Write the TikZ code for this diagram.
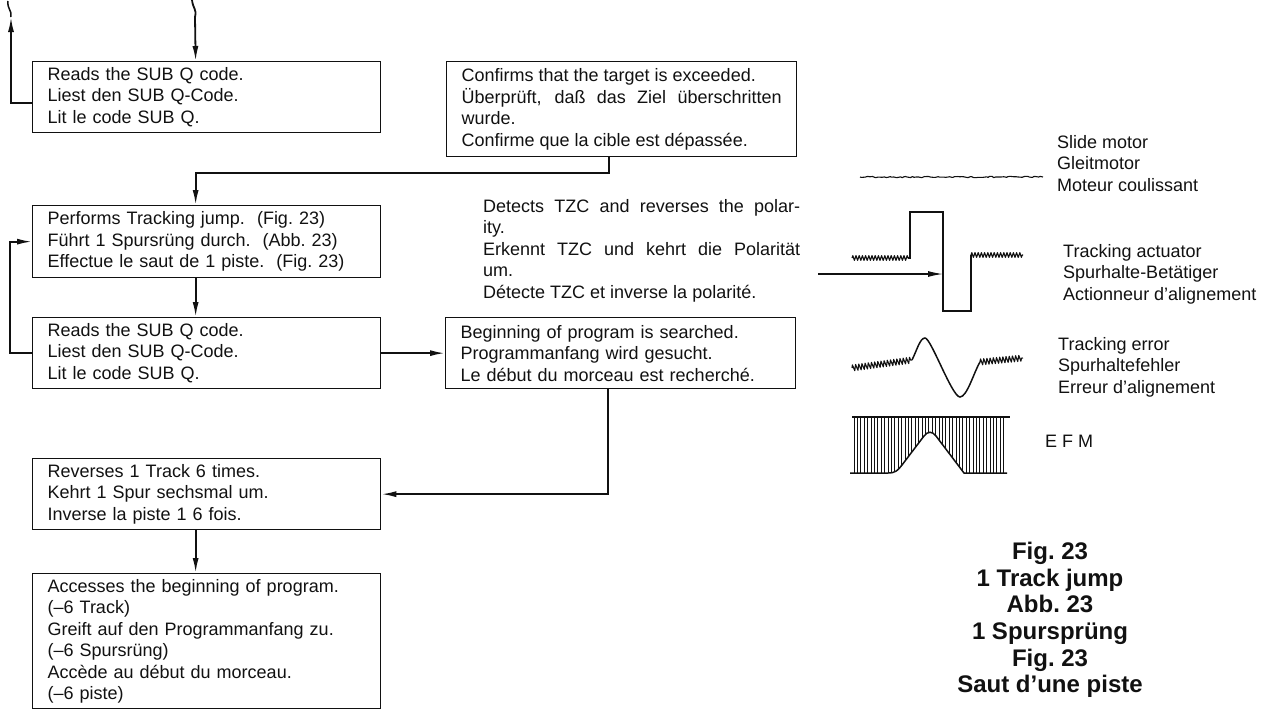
\documentclass[tikz,border=0pt]{standalone}
\usepackage{fontspec}
\setmainfont{Liberation Sans}
\usetikzlibrary{arrows.meta,positioning,calc,decorations.pathmorphing}
\definecolor{ink}{HTML}{111111}

\begin{document}
\begin{tikzpicture}[
  x=1pt, y=-1pt,
  box/.style={draw=ink, line width=1.3pt, anchor=north west, align=left,
              text width=318pt, inner xsep=15pt, inner ysep=0pt,
              minimum height=71pt, font=\fontsize{18}{21.5}\selectfont, text=ink},
  note/.style={anchor=north west, align=left, inner sep=0pt,
               font=\fontsize{18}{21.5}\selectfont, text=ink},
  flarrow/.style={-{Latex[length=15pt,width=6pt]}, ink, line width=1.8pt},
  wire/.style={ink, line width=1.5pt},
  noise/.style={ink, line width=1.1pt, line join=round, decorate,
                decoration={zigzag, segment length=3.2pt, amplitude=2.4pt}}
]
  \pgfmathsetseed{23}
  \useasboundingbox (0,0) rectangle (1283,710);

  % ── Left column: flow ──
  \node[box] (read1) at (32,61)
    {Reads the SUB Q code.\\Liest den SUB Q-Code.\\Lit le code SUB Q.};
  \node[box, minimum height=72pt] (jump) at (32,205)
    {Performs Tracking jump.\ \ (Fig.~23)\\Führt 1 Spursrüng durch.\ \ (Abb.~23)\\Effectue le saut de 1 piste.\ \ (Fig.~23)};
  \node[box] (read2) at (32,317)
    {Reads the SUB Q code.\\Liest den SUB Q-Code.\\Lit le code SUB Q.};
  \node[box] (reverse) at (32,458)
    {Reverses 1 Track 6 times.\\Kehrt 1 Spur sechsmal um.\\Inverse la piste 1 6 fois.};
  \node[box, minimum height=135pt] (access) at (32,573)
    {Accesses the beginning of program.\\(--6 Track)\\Greift auf den Programmanfang zu.\\(--6 Spursrüng)\\Accède au début du morceau.\\(--6 piste)};

  % ── Middle column ──
  \node[box, text width=320pt, minimum height=95pt, align=justify] (confirm) at (446,61)
    {Confirms that the target is exceeded.\\Überprüft, daß das Ziel überschritten\linebreak wurde.\\Confirme que la cible est dépassée.};
  \node[note, text width=317pt, align=justify] (tzc) at (483,199)
    {Detects TZC and reverses the polar-\linebreak ity.\\Erkennt TZC und kehrt die Polarität\linebreak um.\\Détecte TZC et inverse la polarité.};
  \node[box, text width=320pt] (search) at (445,317)
    {Beginning of program is searched.\\Programmanfang wird gesucht.\\Le début du morceau est recherché.};

  % Arrows: flow
  \coordinate (back1) at (11,17);
  \draw[flarrow] (192,0) .. controls (193,9) and (197,9) .. (195,17) -- ([xshift=-11pt]read1.north);
  \draw[flarrow] ([yshift=-6pt]read1.west) -| (back1);
  \draw[wire] (back1) .. controls (12,10) and (7,9) .. (8,1);
  \draw[flarrow] ([xshift=-13pt]confirm.south) -- ++(0,16) -| ([xshift=-11pt]jump.north);
  \draw[flarrow] ([xshift=-11pt]jump.south) -- ([xshift=-11pt]read2.north);
  \draw[flarrow] (read2.west) -- ++(-22,0) |- (jump.west);
  \draw[flarrow] (read2) -- (search);
  \draw[flarrow] ([xshift=-13pt]search.south) |- (reverse.east);
  \draw[flarrow] ([xshift=-11pt]reverse.south) -- ([xshift=-11pt]access.north);

  % ── Right: waveforms ──
  \draw[noise, decoration={random steps, segment length=2pt, amplitude=0.7pt}] (860,177) -- (1043,177);
  \node[note] (slide) at (1057,135) {Slide motor\\Gleitmotor\\Moteur coulissant};

  \draw[noise] (852,258) -- (908,258);
  \draw[wire] (908,258) -- (910,258) -- (910,212) -- (943,212) -- (943,311) -- (971,311) -- (971,255);
  \draw[noise] (971,255) -- (1023,255);
  \coordinate (tzcout) at (818,274);
  \coordinate (edge) at (943,274);
  \draw[flarrow, line width=1.3pt] (tzcout) -- (edge);
  \node[note] (actlbl) at (1063,244) {Tracking actuator\\Spurhalte-Betätiger\\Actionneur d’alignement};

  \draw[noise, decoration={zigzag, segment length=3.2pt, amplitude=3pt}] (852,368) -- (912,360);
  \draw[wire] (912,360) .. controls (917,350) and (920,338) .. (925,338)
    .. controls (931,338) and (952,397) .. (960,397)
    .. controls (967,397) and (974,372) .. (980,362);
  \draw[noise, decoration={zigzag, segment length=3.2pt, amplitude=3pt}] (980,362) -- (1023,358);
  \node[note] (errlbl) at (1058,337) {Tracking error\\Spurhaltefehler\\Erreur d’alignement};

  % EFM envelope
  \begin{scope}
    \clip (853,417) -- (1006,417) -- (1006,473) -- (964,473) -- (936,436)
      .. controls (932,431) and (928,431) .. (924,436) -- (902,465)
      .. controls (898,470) and (896,473) .. (888,473) -- (853,473) -- cycle;
    \foreach \x in {854,857.4,...,1006}
      \draw[ink, line width=1pt] (\x,417) -- (\x,473);
  \end{scope}
  \draw[wire] (852,417) -- (1010,417);
  \draw[wire] (850,473) -- (888,473) .. controls (896,473) and (898,470) .. (902,465) -- (924,436)
    .. controls (928,431) and (932,431) .. (936,436) -- (964,473) -- (1007,473);
  \node[note] (efm) at (1045,435) {E\kern5pt F\kern5pt M};

  % ── Caption ──
  \node[note, anchor=north, align=center, font=\fontsize{24}{26.6}\selectfont\bfseries] (cap) at (1050,542)
    {Fig.~23\\1 Track jump\\Abb.~23\\1 Spursprüng\\Fig.~23\\Saut d’une piste};
\end{tikzpicture}
\end{document}
